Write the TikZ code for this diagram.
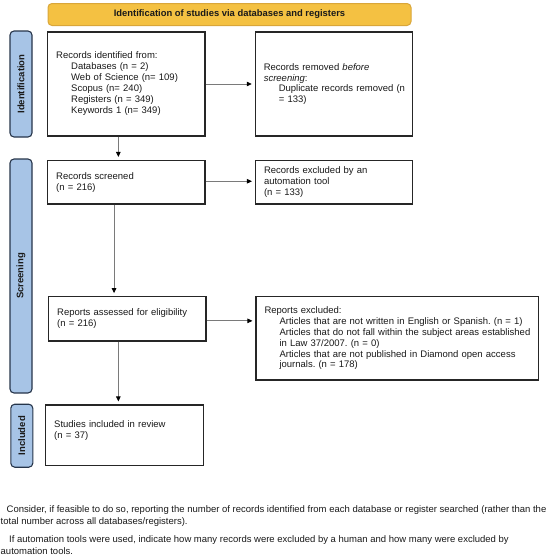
\documentclass[tikz,border=0pt]{standalone}
\usepackage{fontspec}
\setmainfont{Liberation Sans}
\usetikzlibrary{arrows.meta}
\definecolor{tabfill}{HTML}{A7C4E6}
\definecolor{tabdraw}{HTML}{26354A}
\definecolor{banfill}{HTML}{F4C142}
\definecolor{bandraw}{HTML}{D9A63A}
\definecolor{linegray}{HTML}{7A7A7A}
\definecolor{txt}{HTML}{1A1A1A}
\frenchspacing
\begin{document}
\begin{tikzpicture}[x=1pt,y=-1pt,
  box/.style={draw=black!85, line width=1.1pt, fill=white, align=left,
    inner xsep=8.5pt, inner ysep=0pt, text=txt,
    font=\fontsize{9.5}{10.8}\selectfont},
  tab/.style={draw=tabdraw, fill=tabfill, line width=1.1pt, rounded corners=4pt,
    rotate=90, minimum height=22pt, inner sep=0pt, text=txt,
    font=\bfseries\fontsize{9.5}{11}\selectfont},
  banner/.style={draw=bandraw, fill=banfill, line width=1pt, rounded corners=4pt,
    minimum width=363pt, minimum height=22pt, inner sep=0pt, text=txt,
    font=\bfseries\fontsize{9.4}{11}\selectfont},
  arr/.style={draw=linegray, line width=0.8pt,
    -{Triangle[length=5pt,width=4.5pt,color=black]}, shorten >=3pt},
  note/.style={anchor=north west, align=left, inner sep=0pt, text=txt,
    font=\fontsize{9.5}{11.7}\selectfont}
]
\useasboundingbox (0,0) rectangle (550,557);

% banner
\node[banner] (ban) at (229.5,14.5) {Identification of studies via databases and registers};

% side tabs
\node[tab, minimum width=106pt] (tid) at (21,84) {Identification};
\node[tab, minimum width=234pt] (tsc) at (21,276) {Screening};
\node[tab, minimum width=63pt] (tin) at (21.8,435.7) {Included};

% boxes
\node[box, text width=140.3pt, minimum height=104pt,
      font=\fontsize{9.5}{11}\selectfont] (b1) at (126.35,84)
  {Records identified from:\\
   \hspace*{15pt}Databases (n = 2)\\
   \hspace*{15pt}Web of Science (n= 109)\\
   \hspace*{15pt}Scopus (n= 240)\\
   \hspace*{15pt}Registers (n = 349)\\
   \hspace*{15pt}Keywords 1 (n= 349)};
\node[box, text width=140.4pt, minimum height=104pt] (b2) at (334,84)
  {Records removed \textit{before}\\
   \textit{screening}:\\
   \hspace*{15pt}\mbox{Duplicate records removed (n}\\
   \hspace*{15pt}= 133)};
\node[box, text width=140.3pt, minimum height=43.5pt] (b3) at (126.35,182.25)
  {Records screened\\(n = 216)};
\node[box, text width=140.2pt, minimum height=43.5pt] (b4) at (334.1,182.25)
  {Records excluded by an\\automation tool\\(n = 133)};
\node[box, text width=140.3pt, minimum height=44.3pt] (b5) at (127.35,318.85)
  {Reports assessed for eligibility\\(n = 216)};
\node[box, text width=265.3pt, minimum height=83.3pt] (b6) at (397.15,338.35)
  {Reports excluded:\\
   \hspace*{15pt}\mbox{Articles that are not written in English or Spanish. (n = 1)}\\
   \hspace*{15pt}\mbox{Articles that do not fall within the subject areas established}\\
   \hspace*{15pt}\mbox{in Law 37/2007. (n = 0)}\\
   \hspace*{15pt}\mbox{Articles that are not published in Diamond open access}\\
   \hspace*{15pt}\mbox{journals. (n = 178)}};
\node[box, text width=140.6pt, minimum height=60.7pt] (b7) at (124.5,435.35)
  {Studies included in review\\(n = 37)\\ \mbox{}};

% connectors
\draw[arr] (b1.east) -- (b2.west);
\draw[arr] ([xshift=-8pt]b1.south) -- ([xshift=-8pt]b1.south |- b3.north);
\draw[arr] ([yshift=1pt]b3.east) -- ([yshift=1pt]b3.east -| b4.west);
\draw[arr] ([xshift=-12.3pt]b3.south) -- ([xshift=-12.3pt]b3.south |- b5.north);
\draw[arr] ([yshift=-2pt]b5.east) -- ([yshift=-2pt]b5.east -| b6.west);
\draw[arr] ([xshift=-9pt]b5.south) -- ([xshift=-9pt]b5.south |- b7.north);

% footnotes
\node[note] (fn1) at (0.5,505.5)
  {\hspace*{6pt}Consider, if feasible to do so, reporting the number of records identified from each database or register searched (rather than the\\
   total number across all databases/registers).};
\node[note] (fn2) at (0.5,535.5)
  {\hspace*{8.5pt}If automation tools were used, indicate how many records were excluded by a human and how many were excluded by\\
   automation tools.};
\end{tikzpicture}
\end{document}
